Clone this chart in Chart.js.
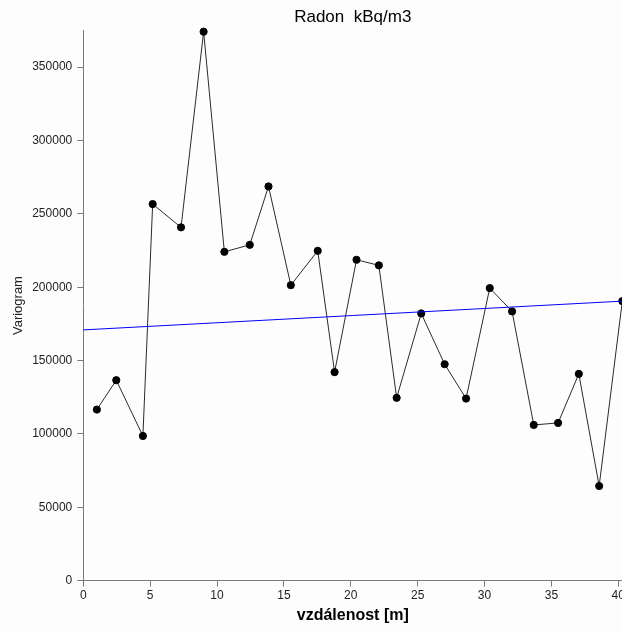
<!DOCTYPE html>
<html>
<head>
<meta charset="utf-8">
<script src="https://cdn.jsdelivr.net/npm/chart.js@4"></script>
<style>
  html, body { margin: 0; padding: 0; background: #fdfdfd; overflow: hidden; }
  #wrap { position: relative; width: 660px; height: 631px; }
</style>
</head>
<body>
<div id="wrap"><canvas id="myChart"></canvas></div>
<script>
// empirical variogram: lag distance [m] and semivariance
const lagDistance = [1.02, 2.47, 4.46, 5.19, 7.31, 9.0, 10.55, 12.45, 13.85, 15.52, 17.53, 18.79, 20.43,
  22.1, 23.43, 25.27, 27.02, 28.62, 30.39, 32.06, 33.68, 35.5, 37.05, 38.57, 40.3];
const variogram = [116600, 136600, 98600, 256700, 240800, 374200, 224100, 228900, 268700, 201400, 224800,
  142100, 218700, 214900, 124600, 182100, 147500, 124100, 199400, 183500, 106100, 107500, 140900, 64500, 190500];

// fitted linear model
const modelX = [0, 40.3];
const modelY = [170900, 190500];

const xTicks = [0, 5, 10, 15, 20, 25, 30, 35, 40];
const yTicks = [0, 50000, 100000, 150000, 200000, 250000, 300000, 350000];

const fontFamily = "'Liberation Sans', Arial, sans-serif";
const axisGray = '#7a7a7a';

const empirical = lagDistance.map((x, i) => ({ x: x, y: variogram[i] }));
const model = modelX.map((x, i) => ({ x: x, y: modelY[i] }));

const ctx = document.getElementById('myChart').getContext('2d');

const myChart = new Chart(ctx, {
  type: 'scatter',
  data: {
    datasets: [
      {
        label: 'model',
        data: model,
        showLine: true,
        borderColor: '#0000ff',
        borderWidth: 1,
        pointRadius: 0,
        clip: false
      },
      {
        label: 'variogram',
        data: empirical,
        showLine: true,
        borderColor: '#2a2a2a',
        borderWidth: 1,
        backgroundColor: '#000',
        pointBackgroundColor: '#000',
        pointBorderColor: '#000',
        pointRadius: 3.6,
        pointBorderWidth: 1,
        clip: false
      }
    ]
  },
  options: {
    responsive: true,
    maintainAspectRatio: false,
    animation: false,
    layout: {
      padding: { left: 1.7, right: 37.7, top: 0, bottom: 5.4 }
    },
    scales: {
      x: {
        type: 'linear',
        min: 0,
        max: 40.3,
        afterBuildTicks: axis => { axis.ticks = xTicks.map(v => ({ value: v })); },
        ticks: {
          color: '#222',
          padding: 2,
          font: { family: fontFamily, size: 12 }
        },
        grid: {
          drawOnChartArea: false,
          drawTicks: true,
          tickLength: 6,
          color: axisGray
        },
        border: { display: true, color: axisGray, width: 1 },
        title: {
          display: true,
          text: 'vzdálenost [m]',
          color: '#000',
          padding: { top: 1.4, bottom: 0 },
          font: { family: fontFamily, size: 16, weight: 'bold' }
        }
      },
      y: {
        type: 'linear',
        min: 0,
        max: 375000,
        afterBuildTicks: axis => { axis.ticks = yTicks.map(v => ({ value: v })); },
        ticks: {
          color: '#222',
          padding: 5,
          font: { family: fontFamily, size: 12 },
          callback: value => String(value)
        },
        grid: {
          drawOnChartArea: false,
          drawTicks: true,
          tickLength: 6,
          color: axisGray
        },
        border: { display: true, color: axisGray, width: 1 },
        title: {
          display: true,
          text: 'Variogram',
          color: '#222',
          padding: { top: 8.5, bottom: 1.4 },
          font: { family: fontFamily, size: 13 }
        }
      }
    },
    plugins: {
      legend: { display: false },
      tooltip: { enabled: false },
      title: {
        display: true,
        text: 'Radon  kBq/m3',
        fullSize: false,
        color: '#000',
        padding: { top: 7, bottom: 3.1 },
        font: { family: fontFamily, size: 17, weight: 'normal' }
      }
    }
  }
});
</script>
</body>
</html>
